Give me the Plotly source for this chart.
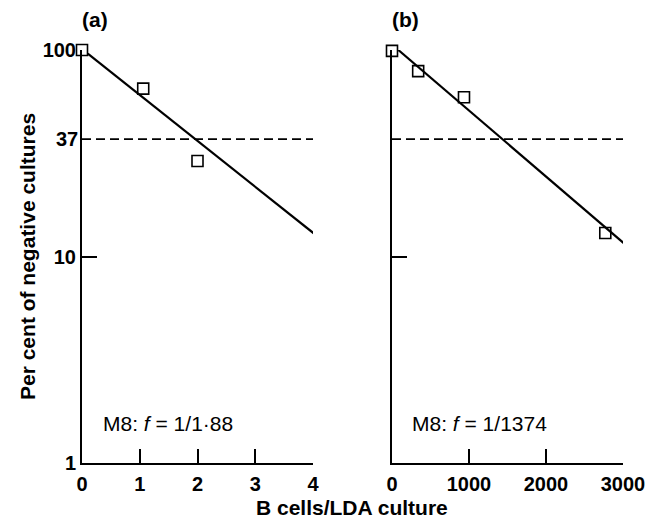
import math
import plotly.graph_objects as go

# ---- data ----
a_x = [0.0, 1.06, 2.0, 4.04]
a_y = [100, 65, 29, 14]
a_fit_x = [0.1, 4.02]
a_fit_y = [96, 12.9]

b_x = [0, 0, 100, 340, 935, 2770]
b_y = [108, 99, 104, 79, 59, 13]
b_fit_x = [82, 3035]
b_fit_y = [100, 11.4]

ref_level = 37
a_xticks = [0, 1, 2, 3, 4]
b_xticks = [0, 1000, 2000, 3000]
y_ticks = [1, 10, 100]
a_range = [0, 4]
b_range = [0, 3000]

FONT = "Liberation Sans"
OFF = 8  # browser body margin
W, H = 656 - OFF, 525 - OFF
ML, MR, MT, MB = 82 - OFF, 33, 50 - OFF, 62
PW = W - ML - MR
PH = H - MT - MB

def px2paper_x(px):
    return (px - OFF - ML) / PW

def px2paper_y(py):
    return (H - MB - (py - OFF)) / PH

fig = go.Figure()

marker_style = dict(symbol="square-open", size=11, color="black", line=dict(width=1.6, color="black"))

fig.add_trace(go.Scatter(x=a_fit_x, y=a_fit_y, mode="lines", line=dict(color="black", width=2.2),
                         xaxis="x", yaxis="y", showlegend=False, hoverinfo="skip"))
fig.add_trace(go.Scatter(x=a_range, y=[ref_level, ref_level], mode="lines",
                         line=dict(color="black", width=1.6, dash="9px,5px"),
                         xaxis="x", yaxis="y", showlegend=False, hoverinfo="skip"))
fig.add_trace(go.Scatter(x=a_x, y=a_y, mode="markers", marker=marker_style, cliponaxis=False,
                         xaxis="x", yaxis="y", showlegend=False))

fig.add_trace(go.Scatter(x=b_fit_x, y=b_fit_y, mode="lines", line=dict(color="black", width=2.2),
                         xaxis="x2", yaxis="y2", showlegend=False, hoverinfo="skip"))
fig.add_trace(go.Scatter(x=b_range, y=[ref_level, ref_level], mode="lines",
                         line=dict(color="black", width=1.6, dash="9px,5px"),
                         xaxis="x2", yaxis="y2", showlegend=False, hoverinfo="skip"))
fig.add_trace(go.Scatter(x=b_x, y=b_y, mode="markers", marker=marker_style, cliponaxis=False,
                         xaxis="x2", yaxis="y2", showlegend=False))

tickfont = dict(family=FONT, size=20, color="black", weight="bold")

common_x = dict(showline=True, linecolor="black", linewidth=2, ticks="inside", ticklen=14,
                tickwidth=1.6, tickcolor="black", showgrid=False, zeroline=False,
                tickfont=tickfont, ticklabelstandoff=2, automargin=False)
common_y = dict(type="log", range=[0, 2], showline=True, linecolor="black", linewidth=2,
                ticks="inside", ticklen=15, tickwidth=1.6, tickcolor="black",
                showgrid=False, zeroline=False, tickfont=tickfont, domain=[0, 1],
                automargin=False)

fig.update_layout(
    width=W, height=H,
    margin=dict(l=ML, r=MR, t=MT, b=MB),
    paper_bgcolor="white", plot_bgcolor="white",
    xaxis=dict(domain=[0, px2paper_x(313)], range=a_range, tickvals=a_xticks,
               anchor="y", **common_x),
    xaxis2=dict(domain=[px2paper_x(392), 1], range=b_range, tickvals=b_xticks,
                anchor="y2", **common_x),
    yaxis=dict(anchor="x", tickvals=y_ticks, ticktext=[str(v) for v in y_ticks], **common_y),
    yaxis2=dict(anchor="x2", tickvals=y_ticks[1:], showticklabels=False, **common_y),
)

ann_font = dict(family=FONT, size=21, color="black", weight="bold")
ann_plain = dict(family=FONT, size=21, color="black")
annotations = [
    dict(text=str(ref_level), xref="paper", yref="y", x=px2paper_x(80), y=math.log10(ref_level),
         xanchor="right", yanchor="middle", showarrow=False, font=tickfont),
    dict(text="(a)", xref="paper", yref="paper", x=px2paper_x(80), y=px2paper_y(20),
         xanchor="left", yanchor="middle", showarrow=False, font=ann_font),
    dict(text="(b)", xref="paper", yref="paper", x=px2paper_x(390), y=px2paper_y(20),
         xanchor="left", yanchor="middle", showarrow=False, font=ann_font),
    dict(text="M8: <i>f</i> = 1/1·88", xref="paper", yref="paper", x=px2paper_x(101),
         y=px2paper_y(423), xanchor="left", yanchor="middle", showarrow=False, font=ann_plain),
    dict(text="M8: <i>f</i> = 1/1374", xref="paper", yref="paper", x=px2paper_x(410),
         y=px2paper_y(423), xanchor="left", yanchor="middle", showarrow=False, font=ann_plain),
    dict(text="Per cent of negative cultures", xref="paper", yref="paper", x=px2paper_x(27),
         y=px2paper_y(257), xanchor="center", yanchor="middle", textangle=-90, showarrow=False,
         font=ann_font),
    dict(text="B cells/LDA culture", xref="paper", yref="paper", x=px2paper_x(352),
         y=px2paper_y(507), xanchor="center", yanchor="middle", showarrow=False,
         font=ann_font),
]
fig.update_layout(annotations=annotations)

fig.write_html("out.html")
